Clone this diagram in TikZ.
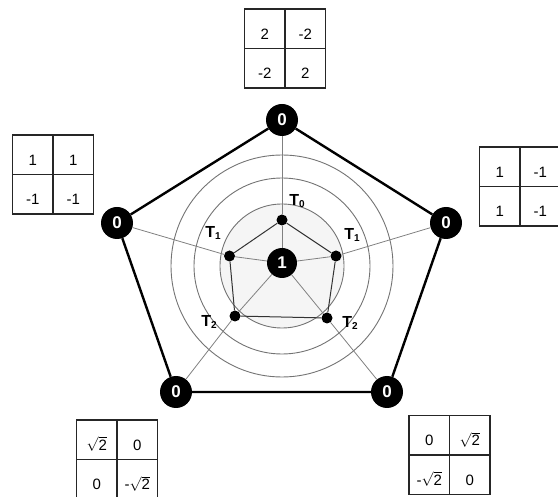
\documentclass[tikz,border=0pt]{standalone}
\usepackage{fontspec}
\setmainfont{Liberation Sans}
\usetikzlibrary{matrix}

\newcommand{\tsub}[2]{#1\raisebox{-1.5pt}{\fontsize{10pt}{10pt}\selectfont #2}}
\newcommand{\rtwo}{$\sqrt{\mbox{2}}$}

\begin{document}
\begin{tikzpicture}[
    x=1pt, y=-1pt,
    outer/.style={
        circle,
        fill=black,
        text=white,
        inner sep=0pt,
        minimum size=32pt,
        font=\fontsize{17pt}{17pt}\selectfont\bfseries
    },
    hub/.style={outer, minimum size=30pt},
    dot/.style={circle, fill=black, inner sep=0pt, minimum size=11pt},
    tlab/.style={inner sep=0pt, font=\fontsize{16pt}{16pt}\selectfont\bfseries},
    ring/.style={draw=black!55, line width=0.9pt},
    spoke/.style={draw=black!50, line width=0.8pt},
    rim/.style={draw=black, line width=2.4pt, line join=round},
    inner/.style={draw=black!80, line width=1pt},
    grid/.style={
        matrix of nodes,
        column sep=-1.2pt,
        row sep=-1.2pt,
        nodes={
            draw=black!85,
            line width=1.2pt,
            minimum width=40.5pt,
            minimum height=39.5pt,
            inner sep=0pt,
            text height=21pt,
            text depth=0pt,
            font=\fontsize{15pt}{15pt}\selectfont
        }
    }
]
\useasboundingbox (0,0) rectangle (558,497);

% rings round the centre
\draw[ring] (282,266) circle[radius=111];
\draw[ring] (282,266) circle[radius=88];
\draw[ring, fill=black!4] (282,266) circle[radius=62];

% outer states
\node[outer] (n0) at (282,120) {0};
\node[outer] (n1) at (446,223) {0};
\node[outer] (n2) at (387,392) {0};
\node[outer] (n3) at (176,392) {0};
\node[outer] (n4) at (117,223) {0};
\node[hub] (c) at (282,263) {1};

% inner points
\node[dot] (t0) at (282,220) {};
\node[dot] (t1r) at (336,256) {};
\node[dot] (t2r) at (327,318) {};
\node[dot] (t2l) at (235,316) {};
\node[dot] (t1l) at (229.5,256) {};

\node[tlab] (lt0) at (297,201) {\tsub{T}{0}};
\node[tlab] (lt1r) at (352,235) {\tsub{T}{1}};
\node[tlab] (lt2r) at (350,323) {\tsub{T}{2}};
\node[tlab] (lt2l) at (209,322) {\tsub{T}{2}};
\node[tlab] (lt1l) at (213,233) {\tsub{T}{1}};

\draw[spoke] (n0) -- (t0) -- (c);
\draw[spoke] (n1) -- (t1r) -- (c);
\draw[spoke] (n2) -- (t2r) -- (c);
\draw[spoke] (n3) -- (t2l) -- (c);
\draw[spoke] (n4) -- (t1l) -- (c);

\draw[inner] (t0) -- (t1r) -- (t2r) -- (t2l) -- (t1l) -- (t0);

\draw[rim] (n0) -- (n1) -- (n2) -- (n3) -- (n4) -- (n0);

% matrices
\matrix[grid] (mtop) at (285,48.5) {2 & -2\\ -2 & 2\\};
\matrix[grid] (mleft) at (53,174.5) {1 & 1\\ -1 & -1\\};
\matrix[grid] (mright) at (520,186.5) {1 & -1\\ 1 & -1\\};
\matrix[grid] (mbl) at (117,459.5) {\rtwo & 0\\ 0 & -\rtwo\\};
\matrix[grid] (mbr) at (449.5,455) {0 & \rtwo\\ -\rtwo & 0\\};
\end{tikzpicture}
\end{document}
